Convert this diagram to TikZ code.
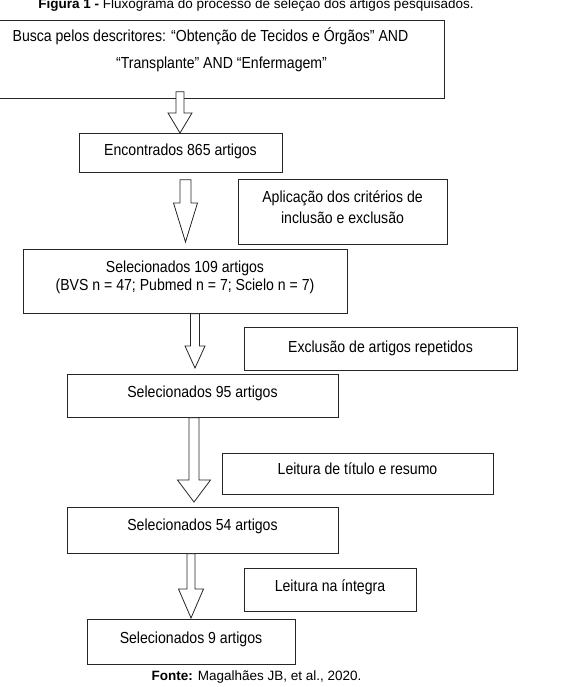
\documentclass[tikz,border=0pt]{standalone}
\usepackage{fontspec}
\setmainfont{Liberation Sans}
\newfontfamily\narrowsans[FakeStretch=0.88]{Liberation Sans}
\usetikzlibrary{calc}
\newcommand{\boxfont}{\narrowsans\fontsize{16}{18}\selectfont}
\newcommand{\capfont}{\fontsize{13.5}{16}\selectfont}
% block arrow: x, from, to, shaft half width, head half width, head length
\newcommand{\blockarrow}[6]{%
  \draw[block arrow] let \p1=(#2), \p2=(#3) in
    (#1pt-#4pt,\y1) -- (#1pt-#4pt,\y2+#6pt) -- (#1pt-#5pt,\y2+#6pt) -- (#1pt,\y2)
    -- (#1pt+#5pt,\y2+#6pt) -- (#1pt+#4pt,\y2+#6pt) -- (#1pt+#4pt,\y1) -- cycle;}

\begin{document}
\begin{tikzpicture}[
    x=1pt, y=-1pt,
    box/.style={draw=black!85, line width=0.8pt, inner sep=0pt, anchor=north, align=center, font=\boxfont},
    block arrow/.style={draw=black!85, line width=0.8pt, fill=white},
    caption/.style={anchor=base, font=\capfont}
]
    \useasboundingbox (0,0) rectangle (573,687);

    % Caption
    \node[caption] (title) at (256,9) {\textbf{Figura 1 -} Fluxograma do processo de seleção dos artigos pesquisados.};

    % Main column
    \node[box, minimum width=445pt, text height=48pt, text depth=30pt] (busca) at (221.5,20)
        {Busca pelos descritores: “Obtenção de Tecidos e Órgãos” AND\hspace*{22pt}\\[9pt] “Transplante” AND “Enfermagem”};
    \node[box, minimum width=203pt, text height=22pt, text depth=17pt] (enc) at (180.5,133) {Encontrados 865 artigos};
    \node[box, minimum width=324pt, text height=41pt, text depth=23pt] (sel109) at (185,249)
        {Selecionados 109 artigos\\ (BVS n = 47; Pubmed n = 7; Scielo n = 7)};
    \node[box, minimum width=271pt, text height=23pt, text depth=20pt] (sel95) at (202.5,374) {Selecionados 95 artigos};
    \node[box, minimum width=271pt, text height=23pt, text depth=23pt] (sel54) at (202.5,507) {Selecionados 54 artigos};
    \node[box, minimum width=208pt, text height=24pt, text depth=21pt] (sel9) at (191,619) {Selecionados 9 artigos};

    % Side steps
    \node[box, minimum width=209pt, text height=44pt, text depth=21pt] (crit) at (342.5,179)
        {Aplicação dos critérios de\\[3pt] inclusão e exclusão};
    \node[box, minimum width=273pt, text height=25pt, text depth=18pt] (rep) at (380.5,327) {Exclusão de artigos repetidos};
    \node[box, minimum width=271pt, text height=21pt, text depth=20pt] (tit) at (357.5,453) {Leitura de título e resumo};
    \node[box, minimum width=172pt, text height=23pt, text depth=20pt] (integ) at (330,568) {Leitura na íntegra};

    % Arrows
    \blockarrow{180}{[yshift=7pt]busca.south}{enc.north}{4}{12}{20}
    \blockarrow{185.5}{[yshift=-7pt]enc.south}{[yshift=7pt]sel109.north}{5.5}{12}{39}
    \blockarrow{195}{sel109.south}{[yshift=6pt]sel95.north}{4.5}{10}{22}
    \blockarrow{194}{sel95.south}{[yshift=5pt]sel54.north}{5}{16.5}{22}
    \blockarrow{191}{sel54.south}{[yshift=1pt]sel9.north}{4}{12.5}{29}

    % Source
    \node[caption] (fonte) at (256.5,680) {\textbf{Fonte:} Magalhães JB, et al., 2020.};
\end{tikzpicture}
\end{document}
